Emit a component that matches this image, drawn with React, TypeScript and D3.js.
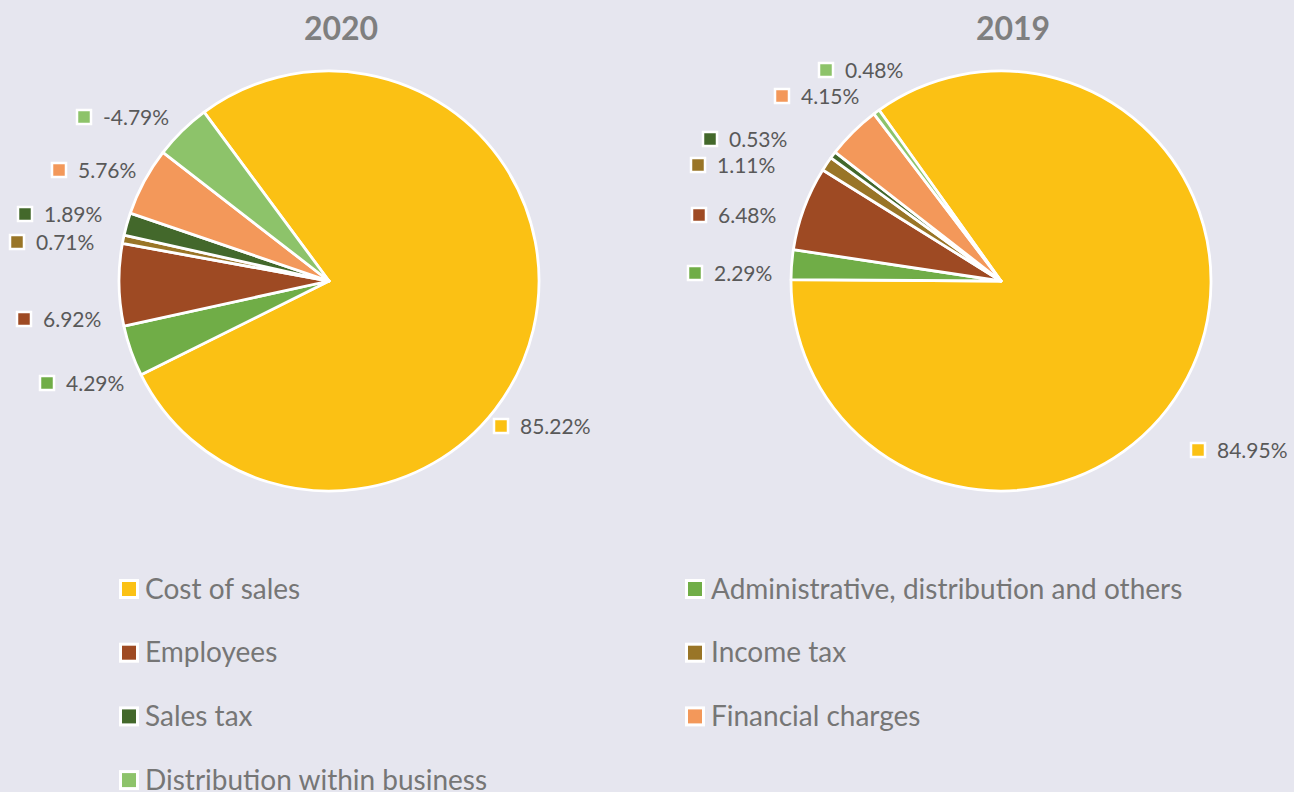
import React from 'react';
import * as d3 from 'd3';

const categories = [
  'Cost of sales',
  'Administrative, distribution and others',
  'Employees',
  'Income tax',
  'Sales tax',
  'Financial charges',
  'Distribution within business',
];
const values2020 = [85.22, 4.29, 6.92, 0.71, 1.89, 5.76, -4.79];
const values2019 = [84.95, 2.29, 6.48, 1.11, 0.53, 4.15, 0.48];
const years = ['2020', '2019'];
const colors = ['#FBC114', '#70AD47', '#9E4A23', '#997527', '#43682B', '#F3985A', '#8DC36A'];

// label anchor offsets (px at radius 210) relative to pie centre
const labelOffsets2020 = [[172, 145], [-282, 102], [-305, 38], [-312, -39], [-304, -67], [-270, -111], [-245, -164]];
const labelOffsets2019 = [[197, 169], [-306, -8], [-302, -66], [-303, -116], [-291, -142], [-219, -185], [-175, -211]];

const W = 1294;
const H = 792;
const FONT = 'Lato, Carlito, Calibri, sans-serif';
const BG = '#E6E6EF';

const pies = [
  { year: years[0], values: values2020, cx: 329, cy: 281, r: 210, start: -36.5, labels: labelOffsets2020 },
  { year: years[1], values: values2019, cx: 1001, cy: 281, r: 210, start: -35.5, labels: labelOffsets2019 },
];

function Pie({ p }: { p: any }) {
  const toRad = (d: number) => (d * Math.PI) / 180;
  const pieGen = d3
    .pie<number>()
    .value((d) => Math.abs(d))
    .sort(null)
    .startAngle(toRad(p.start))
    .endAngle(toRad(p.start + 360));
  const arcs = pieGen(p.values);
  const arcGen = d3.arc<d3.PieArcDatum<number>>().innerRadius(0).outerRadius(p.r);
  const k = p.r / 210;
  return (
    <g>
      <text
        x={p.cx + 12}
        y={40}
        textAnchor="middle"
        fontFamily={FONT}
        fontWeight={700}
        fontSize={32}
        fill="#7F7F7F"
      >
        {p.year}
      </text>
      <g transform={`translate(${p.cx},${p.cy})`}>
        {arcs.map((a, i) => (
          <path key={i} d={arcGen(a) || ''} fill={colors[i]} stroke="#FFFFFF" strokeWidth={2.8} strokeLinejoin="round" />
        ))}
        {arcs.map((a, i) => {
          const [dx, dy] = p.labels[i];
          const x = dx * k;
          const y = dy * k;
          return (
            <g key={'l' + i} transform={`translate(${x},${y})`}>
              <rect x={-7} y={-7} width={14} height={14} fill={colors[i]} stroke="#FFFFFF" strokeWidth={2.5} />
              <text x={19} y={7.5} fontFamily={FONT} fontSize={21} fill="#595959">
                {p.values[i].toFixed(2) + '%'}
              </text>
            </g>
          );
        })}
      </g>
    </g>
  );
}

export default function App() {
  const legendX = [129, 695];
  const legendY0 = 589;
  const legendDy = 63.7;
  return (
    <svg
      width={W}
      height={H}
      style={{ position: 'absolute', left: 0, top: 0, display: 'block' }}
      xmlns="http://www.w3.org/2000/svg"
    >
      <rect x={0} y={0} width={W} height={H} fill={BG} />
      {pies.map((p) => (
        <Pie key={p.year} p={p} />
      ))}
      <g>
        {categories.map((c, i) => {
          const col = i % 2;
          const row = Math.floor(i / 2);
          const x = legendX[col];
          const y = legendY0 + row * legendDy;
          return (
            <g key={c} transform={`translate(${x},${y})`}>
              <rect x={-8.5} y={-8.5} width={17} height={17} fill={colors[i]} stroke="#FFFFFF" strokeWidth={3} />
              <text x={16} y={9.5} fontFamily={FONT} fontSize={28} fill="#767676">
                {c}
              </text>
            </g>
          );
        })}
      </g>
    </svg>
  );
}
